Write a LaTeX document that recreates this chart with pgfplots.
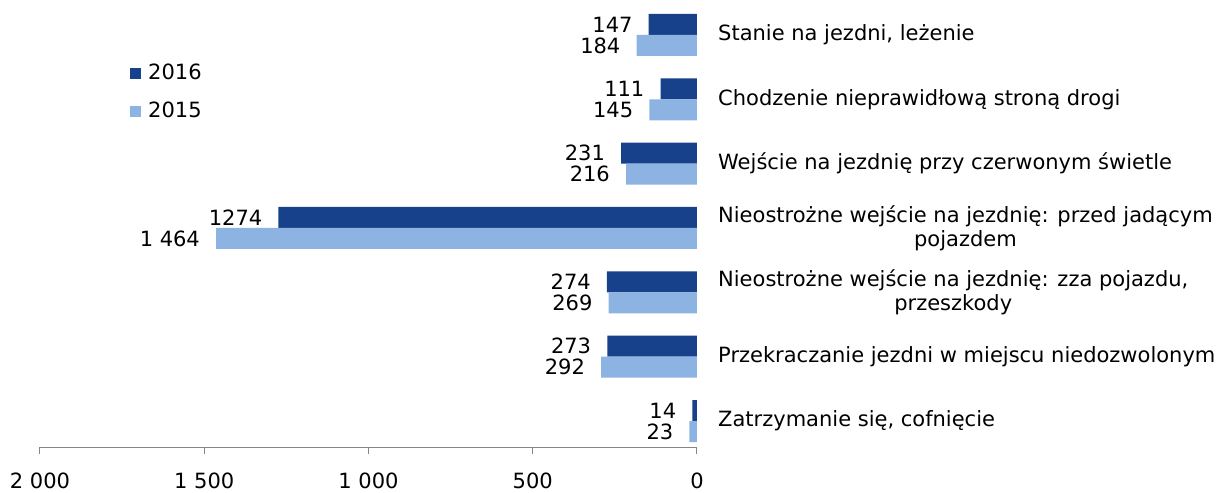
\documentclass[border=0pt]{standalone}
\usepackage{fontspec}
\setmainfont{DejaVu Sans}
\usepackage{pgfplots}
\pgfplotsset{compat=1.18}
\definecolor{dark}{HTML}{17418A}
\definecolor{light}{HTML}{8DB3E2}
\definecolor{axgray}{HTML}{868686}
\pgfplotsset{sq legend/.style={legend image code/.code={\fill[##1,draw=none] (0bp,-5.5bp) rectangle (11bp,5.5bp);}}}
\begin{document}
\fontsize{21bp}{24bp}\selectfont
\begin{tikzpicture}
\useasboundingbox (0,0) rectangle (1227bp,493bp);
\begin{axis}[
  at={(40bp,46bp)}, anchor=south west,
  scale only axis, width=657bp, height=438bp,
  xbar, bar width=21bp,
  x dir=reverse, xmin=0, xmax=2000,
  ymin=-0.404, ymax=6.404,
  axis x line*=bottom,
  axis y line*=right,
  x axis line style={axgray, line width=1bp},
  y axis line style={draw=none},
  xtick={0,500,1000,1500,2000},
  xticklabels={0,500,1 000,1 500,2 000},
  tick align=outside, major tick length=7bp,
  xtick style={axgray, line width=1bp},
  ytick={0,1,2,3,4,5,6},
  yticklabels={{Zatrzymanie się, cofnięcie},
    {Przekraczanie jezdni w miejscu niedozwolonym},
    {Nieostrożne wejście na jezdnię: zza pojazdu,\\ przeszkody},
    {Nieostrożne wejście na jezdnię: przed jadącym\\ pojazdem},
    {Wejście na jezdnię przy czerwonym świetle},
    {Chodzenie nieprawidłową stroną drogi},
    {Stanie na jezdni, leżenie}},
  ytick style={draw=none},
  yticklabel style={anchor=west, align=center, xshift=7bp, font=\fontsize{21bp}{24bp}\selectfont},
  xticklabel style={font=\fontsize{21bp}{24bp}\selectfont, yshift=-12bp},
  /pgf/number format/assume math mode=true,
  nodes near coords,
  point meta=explicit symbolic,
  nodes near coords align={anchor=east},
  every node near coord/.append style={font=\fontsize{21bp}{24bp}\selectfont, text=black, inner sep=0pt, xshift=-16bp},
  legend style={at={(0.137,0.879)}, anchor=north west, draw=none, fill=none,
    font=\fontsize{21bp}{24bp}\selectfont, row sep=15bp, column sep=5bp, inner sep=0pt},
  legend cell align=left,
]
\addplot[fill=dark, draw=none, bar shift=10.5bp, sq legend] coordinates {
  (14,0) [14]
  (273,1) [273]
  (274,2) [274]
  (1274,3) [1274]
  (231,4) [231]
  (111,5) [111]
  (147,6) [147]
};
\addlegendentry{2016}
\addplot[fill=light, draw=none, bar shift=-10.5bp, sq legend] coordinates {
  (23,0) [23]
  (292,1) [292]
  (269,2) [269]
  (1464,3) [1 464]
  (216,4) [216]
  (145,5) [145]
  (184,6) [184]
};
\addlegendentry{2015}
\end{axis}
\end{tikzpicture}
\end{document}
